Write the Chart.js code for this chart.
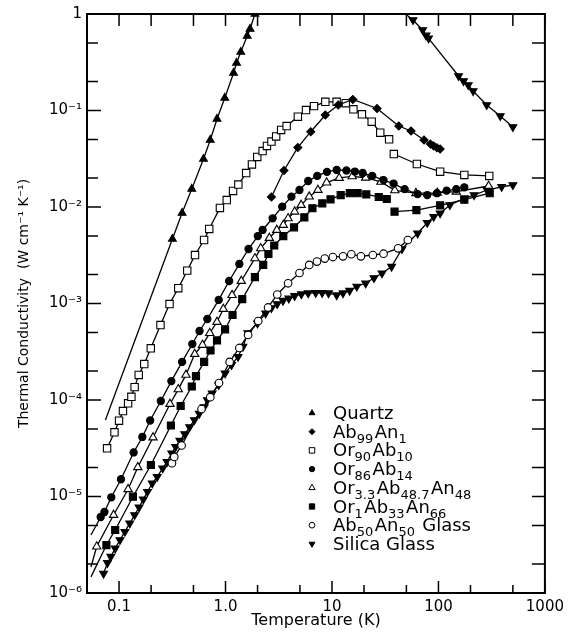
<!DOCTYPE html>
<html>
<head>
<meta charset="utf-8">
<title>Thermal conductivity vs temperature</title>
<script src="https://cdn.jsdelivr.net/npm/chart.js@4.4.1/dist/chart.umd.min.js"></script>
<style>
  html, body { margin: 0; padding: 0; background: #fff; }
  #marco { position: relative; width: 569px; height: 632px; }
</style>
</head>
<body>
<div id="marco"><canvas id="grafica"></canvas></div>
<script>
// ---- datos (T en K, k en W cm-1 K-1) ----
const quartzT = [0.0745, 0.317, 0.391, 0.482, 0.621, 0.719, 0.832, 0.984, 1.19, 1.27, 1.39, 1.60, 1.70, 1.89];
const quartzK = [6.2e-5, 4.66e-3, 8.67e-3, 0.0154, 0.0314, 0.0495, 0.0817, 0.135, 0.245, 0.311, 0.404, 0.592, 0.70, 1.0];
const quartzHighT = [49, 57.7, 71.1, 76.5, 80.7, 154.5, 171.8, 190.6, 211.6, 283.9, 380.9, 500];
const quartzHighK = [1.0, 0.867, 0.683, 0.60, 0.56, 0.228, 0.202, 0.184, 0.159, 0.114, 0.0877, 0.0675];

const ab99T = [2.70, 3.54, 4.78, 6.32, 8.66, 11.46, 15.7, 26.5, 42.4, 55.3, 73.2, 84.1, 90.2, 96.8, 103.7];
const ab99K = [0.0127, 0.0239, 0.0414, 0.0603, 0.0898, 0.114, 0.130, 0.105, 0.069, 0.0613, 0.0495, 0.045, 0.0429, 0.0412, 0.0399];

const or90T = [0.0772, 0.0906, 0.1, 0.1088, 0.1216, 0.1306, 0.140, 0.153, 0.1725, 0.1986, 0.245, 0.298, 0.360, 0.437, 0.517, 0.629, 0.703, 0.886, 1.027, 1.177, 1.320, 1.563, 1.771, 1.987, 2.23, 2.45, 2.70, 2.99, 3.33, 3.75, 4.78, 5.70, 6.78, 8.66, 11.06, 13.47, 15.9, 19.1, 23.6, 28.4, 34.4];
const or90K = [3.16e-5, 4.63e-5, 6.10e-5, 7.69e-5, 9.24e-5, 1.08e-4, 1.36e-4, 1.82e-4, 2.36e-4, 3.43e-4, 5.98e-4, 9.88e-4, 1.44e-3, 2.19e-3, 3.18e-3, 4.55e-3, 5.92e-3, 9.77e-3, 0.0118, 0.01465, 0.0171, 0.0225, 0.0276, 0.033, 0.038, 0.0429, 0.0477, 0.0538, 0.0628, 0.069, 0.0863, 0.101, 0.111, 0.123, 0.123, 0.119, 0.103, 0.0914, 0.0766, 0.0589, 0.0503];
const or90HighT = [38.1, 62.7, 103.7, 175, 300];
const or90HighK = [0.0354, 0.0279, 0.0232, 0.0215, 0.0210];

const or86T = [0.0545, 0.0672, 0.0729, 0.0846, 0.1043, 0.137, 0.1656, 0.196, 0.2467, 0.310, 0.391, 0.488, 0.570, 0.675, 0.863, 1.082, 1.349, 1.645, 2.01, 2.23, 2.77, 3.41, 4.16, 4.95, 5.98, 7.27, 8.97, 11.07, 13.66, 16.4, 19.4, 23.9, 30.5, 37.9, 48.1, 63.7, 78.5, 96.8, 119.4, 147, 175];
const or86K = [3.99e-6, 6.13e-6, 6.91e-6, 9.81e-6, 1.51e-5, 2.86e-5, 4.14e-5, 6.13e-5, 9.77e-5, 1.57e-4, 2.48e-4, 3.80e-4, 5.19e-4, 6.91e-4, 1.09e-3, 1.71e-3, 2.57e-3, 3.67e-3, 5.0e-3, 5.78e-3, 7.64e-3, 0.01007, 0.0128, 0.0150, 0.0186, 0.0210, 0.0231, 0.0242, 0.0239, 0.0233, 0.0225, 0.0210, 0.0190, 0.0175, 0.0153, 0.0136, 0.0133, 0.0139, 0.0148, 0.0153, 0.0160];

const or33T = [0.0545, 0.0617, 0.0888, 0.1216, 0.150, 0.2085, 0.301, 0.360, 0.425, 0.514, 0.608, 0.711, 0.832, 0.954, 1.152, 1.406, 1.888, 2.14, 2.58, 3.03, 3.49, 3.87, 4.46, 5.13, 6.11, 7.38, 8.91, 11.7, 15.5, 20.7, 28.8, 38.9, 61.4, 97.5, 147, 296];
const or33K = [1.86e-6, 3.03e-6, 6.43e-6, 1.19e-5, 2.01e-5, 4.09e-5, 9.09e-5, 1.29e-4, 1.82e-4, 3.0e-4, 3.72e-4, 4.94e-4, 6.43e-4, 8.77e-4, 1.22e-3, 1.71e-3, 2.94e-3, 3.73e-3, 4.77e-3, 5.78e-3, 6.51e-3, 7.64e-3, 8.94e-3, 0.0105, 0.0128, 0.0150, 0.0179, 0.0200, 0.0208, 0.0201, 0.0182, 0.0149, 0.0139, 0.0140, 0.0144, 0.0165];

const or1T = [0.0545, 0.0761, 0.092, 0.135, 0.199, 0.307, 0.379, 0.482, 0.528, 0.630, 0.723, 0.832, 0.991, 1.164, 1.436, 1.888, 2.26, 2.53, 2.87, 3.49, 4.40, 5.50, 6.55, 8.11, 9.69, 12.07, 14.7, 17.4, 21.0, 27.5, 32.7];
const or1K = [1.47e-6, 3.14e-6, 4.5e-6, 9.95e-6, 2.12e-5, 5.44e-5, 8.67e-5, 1.38e-4, 1.77e-4, 2.48e-4, 3.26e-4, 4.14e-4, 5.4e-4, 7.6e-4, 1.11e-3, 1.88e-3, 2.51e-3, 3.26e-3, 3.99e-3, 5.0e-3, 6.16e-3, 7.82e-3, 9.7e-3, 0.0109, 0.0120, 0.0133, 0.0139, 0.0139, 0.0135, 0.0127, 0.0121];
const or1HighT = [38.7, 62.1, 103.7, 175, 303];
const or1HighK = [8.94e-3, 9.3e-3, 0.0104, 0.0119, 0.0139];

const ab50T = [0.314, 0.330, 0.387, 0.595, 0.719, 0.868, 1.093, 1.348, 1.63, 2.03, 2.51, 3.06, 3.87, 4.95, 6.11, 7.23, 8.55, 10.2, 12.7, 15.2, 18.7, 24.2, 30.5, 41.8, 51.6];
const ab50K = [2.21e-5, 2.57e-5, 3.38e-5, 8.07e-5, 1.07e-4, 1.50e-4, 2.48e-4, 3.46e-4, 4.72e-4, 6.59e-4, 9.1e-4, 1.24e-3, 1.62e-3, 2.07e-3, 2.51e-3, 2.72e-3, 2.92e-3, 3.03e-3, 3.08e-3, 3.24e-3, 3.08e-3, 3.18e-3, 3.28e-3, 3.73e-3, 4.55e-3];

const silicaT = [0.0715, 0.0778, 0.0837, 0.092, 0.102, 0.1134, 0.126, 0.140, 0.154, 0.169, 0.185, 0.205, 0.228, 0.257, 0.2825, 0.3125, 0.340, 0.3725, 0.414, 0.460, 0.510, 0.567, 0.630, 0.675, 0.749, 0.863, 0.991, 1.14, 1.312, 1.458, 1.62, 1.996, 2.38, 2.70, 3.06, 3.47, 3.93, 4.46, 5.16, 5.98, 7.03, 8.08, 9.29, 11.07, 12.7, 14.65, 17.1, 20.7, 24.8, 29.5, 36.3, 45.4, 63.7, 78.5, 90.2, 103.7, 128, 175, 216, 286, 392, 500];
const silicaK = [1.59e-6, 2.05e-6, 2.38e-6, 2.90e-6, 3.54e-6, 4.32e-6, 5.27e-6, 6.43e-6, 7.73e-6, 9.35e-6, 1.12e-5, 1.37e-5, 1.60e-5, 1.96e-5, 2.29e-5, 2.80e-5, 3.28e-5, 3.79e-5, 4.44e-5, 5.25e-5, 6.21e-5, 7.24e-5, 8.46e-5, 1.0e-4, 1.17e-4, 1.43e-4, 1.89e-4, 2.31e-4, 2.81e-4, 3.57e-4, 4.94e-4, 6.23e-4, 7.91e-4, 8.98e-4, 9.88e-4, 1.07e-3, 1.13e-3, 1.20e-3, 1.25e-3, 1.28e-3, 1.29e-3, 1.29e-3, 1.28e-3, 1.22e-3, 1.28e-3, 1.36e-3, 1.50e-3, 1.62e-3, 1.84e-3, 2.06e-3, 2.41e-3, 3.67e-3, 5.34e-3, 6.87e-3, 7.93e-3, 8.61e-3, 0.0105, 0.0123, 0.0133, 0.0150, 0.0162, 0.0169];

// ticks de los ejes
const xTickValues = [0.1, 0.2, 0.5, 1, 2, 5, 10, 20, 50, 100, 200, 500, 1000];
const xLabelValues = [0.1, 1, 10, 100, 1000];
const xLabelText = ['0.1', '1.0', '10', '100', '1000'];
const yTickValues = [1e-6, 2e-6, 5e-6, 1e-5, 2e-5, 5e-5, 1e-4, 2e-4, 5e-4, 1e-3, 2e-3, 5e-3, 0.01, 0.02, 0.05, 0.1, 0.2, 0.5, 1];
const yLabelValues = [1e-6, 1e-5, 1e-4, 1e-3, 0.01, 0.1, 1];
const yLabelText = ['10\u207B\u2076', '10\u207B\u2075', '10\u207B\u2074', '10\u207B\u00B3', '10\u207B\u00B2', '10\u207B\u00B9', '1'];

// leyenda: {..} = subindice
const legendNames = ['Quartz', 'Ab{99}An{1}', 'Or{90}Ab{10}', 'Or{86}Ab{14}', 'Or{3.3}Ab{48.7}An{48}', 'Or{1}Ab{33}An{66}', 'Ab{50}An{50} Glass', 'Silica Glass'];

const FUENTE = '"DejaVu Sans", "Liberation Sans", sans-serif';
Chart.defaults.color = '#000';
Chart.defaults.font.family = FUENTE;

// estilos de marcador
const estilos = {
    quartz: { pointStyle: 'triangle', rotation: 0, radius: 4.5, fill: '#000' },
    quartzAlta: { pointStyle: 'triangle', rotation: 180, radius: 4.5, fill: '#000' },
    ab99:   { pointStyle: 'rectRot', rotation: 0, radius: 4, fill: '#000' },
    or90:   { pointStyle: 'rect', rotation: 0, radius: 5.2, fill: '#fff' },
    or86:   { pointStyle: 'circle', rotation: 0, radius: 3.6, fill: '#000' },
    or33:   { pointStyle: 'triangle', rotation: 0, radius: 4.8, fill: '#fff' },
    or1:    { pointStyle: 'rect', rotation: 0, radius: 5, fill: '#000' },
    ab50:   { pointStyle: 'circle', rotation: 0, radius: 3.8, fill: '#fff' },
    silica: { pointStyle: 'triangle', rotation: 180, radius: 4.5, fill: '#000' }
};
const ordenLeyenda = ['quartz', 'ab99', 'or90', 'or86', 'or33', 'or1', 'ab50', 'silica'];

function puntos(T, K) {
    return T.map((t, i) => ({ x: t, y: K[i] }));
}

// leadIn: el primer punto es solo linea (sin marcador)
function serie(label, T, K, e, leadIn) {
    return {
        label: label,
        data: puntos(T, K),
        showLine: true,
        borderColor: '#000',
        borderWidth: 1.3,
        tension: 0,
        pointStyle: e.pointStyle,
        rotation: e.rotation,
        pointBackgroundColor: e.fill,
        pointBorderColor: '#000',
        pointBorderWidth: 1.1,
        pointRadius: ctx => (leadIn && ctx.dataIndex === 0) ? 0 : e.radius
    };
}

let datasets = [
    serie('Quartz', quartzT, quartzK, estilos.quartz, true),
    serie('Quartz', quartzHighT, quartzHighK, estilos.quartzAlta, true),
    serie('Ab99An1', ab99T, ab99K, estilos.ab99, false),
    serie('Or90Ab10', or90T, or90K, estilos.or90, false),
    serie('Or90Ab10', or90HighT, or90HighK, estilos.or90, false),
    serie('Or86Ab14', or86T, or86K, estilos.or86, true),
    serie('Or3.3Ab48.7An48', or33T, or33K, estilos.or33, true),
    serie('Or1Ab33An66', or1T, or1K, estilos.or1, true),
    serie('Or1Ab33An66', or1HighT, or1HighK, estilos.or1, false),
    serie('Ab50An50 Glass', ab50T, ab50K, estilos.ab50, false),
    serie('Silica Glass', silicaT, silicaK, estilos.silica, false)
];

function etiqueta(v, vals, textos) {
    for (let i = 0; i < vals.length; i++) {
        if (Math.abs(v / vals[i] - 1) < 1e-6) return textos[i];
    }
    return '';
}

function esDecada(v) {
    const l = Math.log10(v);
    return Math.abs(l - Math.round(l)) < 1e-6;
}

// marco y ticks hacia dentro en los cuatro lados
const marcoTicks = {
    id: 'marcoTicks',
    afterDraw(chart) {
        const { ctx, chartArea: a, scales } = chart;
        ctx.save();
        ctx.strokeStyle = '#000';
        ctx.lineWidth = 1.5;
        ctx.beginPath();
        scales.x.ticks.forEach(t => {
            const px = scales.x.getPixelForValue(t.value);
            const len = esDecada(t.value) ? 12 : 8;
            ctx.moveTo(px, a.bottom); ctx.lineTo(px, a.bottom - len);
            ctx.moveTo(px, a.top); ctx.lineTo(px, a.top + 12);
        });
        scales.y.ticks.forEach(t => {
            const py = scales.y.getPixelForValue(t.value);
            const len = esDecada(t.value) ? 14 : 11;
            ctx.moveTo(a.left, py); ctx.lineTo(a.left + len, py);
            ctx.moveTo(a.right, py); ctx.lineTo(a.right - 13, py);
        });
        ctx.stroke();
        ctx.lineWidth = 2;
        ctx.strokeRect(a.left, a.top, a.right - a.left, a.bottom - a.top);
        ctx.restore();
    }
};

function textoConSubindices(ctx, s, x, y) {
    const partes = s.split(/(\{[^}]*\})/).filter(p => p.length);
    partes.forEach(p => {
        if (p[0] === '{') {
            ctx.font = '13px ' + FUENTE;
            const txt = p.slice(1, -1);
            ctx.fillText(txt, x, y + 5);
            x += ctx.measureText(txt).width + 1.5;
        } else {
            ctx.font = '18px ' + FUENTE;
            ctx.fillText(p, x, y);
            x += ctx.measureText(p).width;
        }
    });
}

const leyenda = {
    id: 'leyenda',
    afterDraw(chart) {
        const ctx = chart.ctx;
        ctx.save();
        ctx.fillStyle = '#000';
        ctx.textBaseline = 'alphabetic';
        ctx.textAlign = 'left';
        legendNames.forEach((nombre, i) => {
            const base = 419 + i * 18.7;
            const e = estilos[ordenLeyenda[i]];
            ctx.fillStyle = e.fill;
            ctx.strokeStyle = '#000';
            ctx.lineWidth = 1;
            Chart.helpers.drawPoint(ctx, {
                pointStyle: e.pointStyle,
                rotation: e.rotation,
                radius: e.radius * 0.75,
                borderWidth: 1
            }, 312, base - 6);
            ctx.fillStyle = '#000';
            textoConSubindices(ctx, nombre, 333, base);
        });
        ctx.restore();
    }
};

new Chart(document.getElementById('grafica'), {
    type: 'scatter',
    data: { datasets: datasets },
    options: {
        responsive: true,
        maintainAspectRatio: false,
        animation: false,
        events: [],
        layout: { padding: { top: 14, right: 11, left: 0, bottom: 0 } },
        plugins: {
            legend: { display: false },
            tooltip: { enabled: false }
        },
        scales: {
            x: {
                type: 'logarithmic',
                min: 0.05,
                max: 1000,
                afterBuildTicks: s => { s.ticks = xTickValues.map(v => ({ value: v })); },
                afterFit: s => { s.height = 39; },
                grid: { display: false, drawTicks: false },
                border: { display: false },
                ticks: {
                    autoSkip: false,
                    maxRotation: 0,
                    padding: 5,
                    font: { size: 15 },
                    callback: v => etiqueta(v, xLabelValues, xLabelText)
                },
                title: {
                    display: true,
                    text: 'Temperature (K)',
                    font: { size: 16 },
                    padding: { top: 0, bottom: 2 }
                }
            },
            y: {
                type: 'logarithmic',
                min: 1e-6,
                max: 1,
                afterBuildTicks: s => { s.ticks = yTickValues.map(v => ({ value: v })); },
                afterFit: s => { s.width = 87; },
                grid: { display: false, drawTicks: false },
                border: { display: false },
                ticks: {
                    autoSkip: false,
                    padding: 5,
                    font: { size: 15 },
                    callback: v => etiqueta(v, yLabelValues, yLabelText)
                },
                title: {
                    display: true,
                    text: 'Thermal Conductivity  (W cm\u207B\u00B9 K\u207B\u00B9)',
                    font: { size: 14 },
                    padding: { top: 16, bottom: 0 }
                }
            }
        }
    },
    plugins: [marcoTicks, leyenda]
});
</script>
</body>
</html>
